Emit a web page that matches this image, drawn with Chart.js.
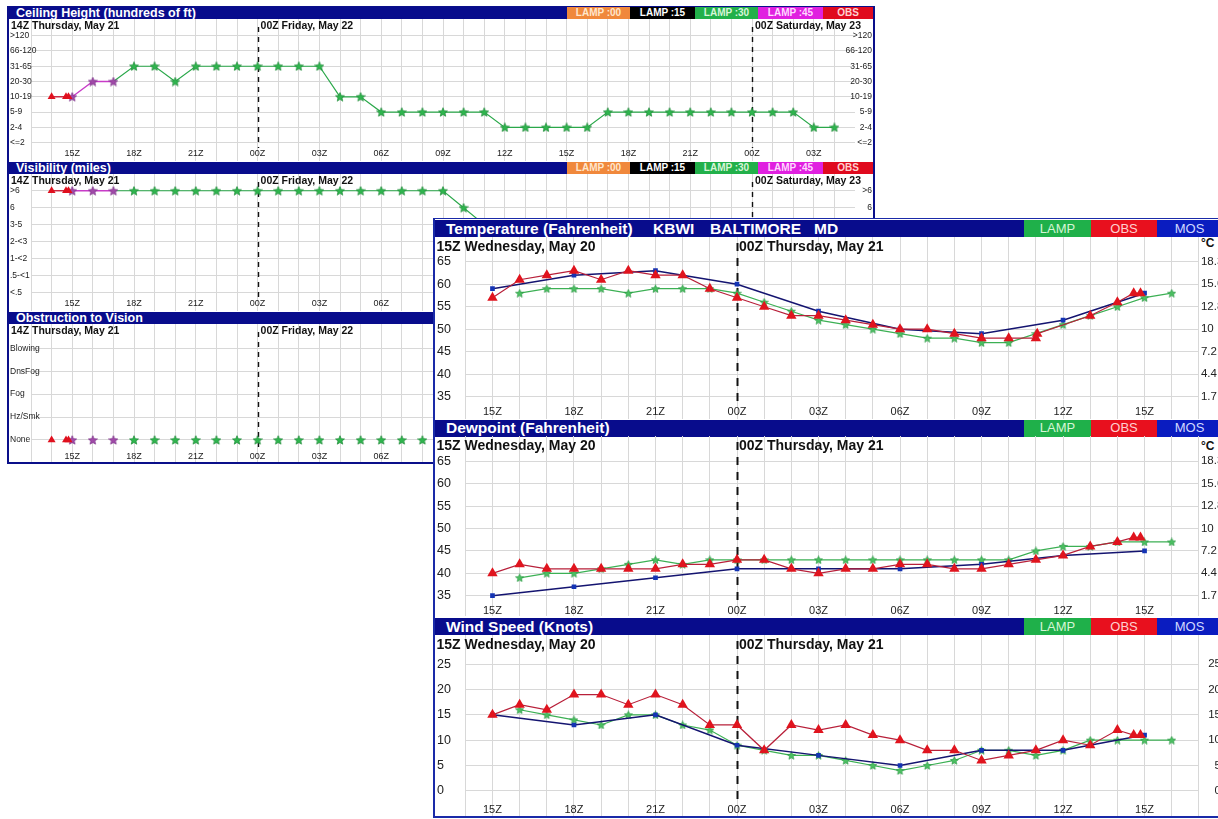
<!DOCTYPE html>
<html>
<head>
<meta charset="utf-8">
<title>KBWI LAMP guidance</title>
<script src="https://cdn.jsdelivr.net/npm/chart.js@4.4.1/dist/chart.umd.min.js"></script>
<style>
  html, body { margin: 0; padding: 0; background: #fff; width: 1218px; height: 819px; overflow: hidden;
    font-family: "Liberation Sans", Arial, sans-serif; }
  .layer { position: absolute; left: 0; top: 0; width: 1218px; height: 819px; }
  .frame { position: absolute; box-sizing: content-box; }
  .bar { position: absolute; background: #080c8c; color: #fff; white-space: nowrap; overflow: hidden; }
  .bar span { position: absolute; top: 0; white-space: nowrap; }
  .key { position: absolute; top: 0; height: 100%; text-align: center; }
  .unit { position: absolute; font-weight: bold; font-size: 12px; color: #111; line-height: 14px; }
</style>
</head>
<body>
<div id="back" class="layer">
  <div class="frame" style="left:7px;top:6px;width:864px;height:455px;border:2px solid #0a0f8a;border-top:1px solid #0a0f8a;background:#fff"></div>
</div>
<div id="front" class="layer">
  <div class="frame" style="left:433px;top:218px;width:900px;height:597px;background:#fff;border-left:2px solid #1a2aa8;border-bottom:2px solid #1a2aa8;border-top:1px solid #1a2aa8"></div>
  <div class="unit" style="left:1201px;top:236px">°C</div>
  <div class="unit" style="left:1201px;top:439px">°C</div>
</div>
<script>
// ===== LAMP run issued 14Z Thursday, May 21 (hours after 14Z) =====
const ceilCats = ['<=2', '2-4', '5-9', '10-19', '20-30', '31-65', '66-120', '>120'];
const visCats = ['<.5', '.5-<1', '1-<2', '2-<3', '3-5', '6', '>6'];
const obvCats = ['None', 'Hz/Smk', 'Fog', 'DnsFog', 'Blowing'];

const obsHoursBack = [0, 0.7, 0.82];
const lamp45Hours = [1, 2, 3];
const ceilLamp30Hours = [3, 4, 5, 6, 7, 8, 9, 10, 11, 12, 13, 14, 15, 16, 17, 18, 19, 20, 21, 22,
  23, 24, 25, 26, 27, 28, 29, 30, 31, 32, 33, 34, 35, 36, 37, 38];
const visLamp30Hours = [3, 4, 5, 6, 7, 8, 9, 10, 11, 12, 13, 14, 15, 16, 17, 18, 19, 20, 21];
const obvLamp30Hours = [4, 5, 6, 7, 8, 9, 10, 11, 12, 13, 14, 15, 16, 17, 18, 19];

const ceilObs = ['10-19', '10-19', '10-19'];
const ceilLamp45 = ['10-19', '20-30', '20-30'];
const ceilLamp30 = ['20-30', '31-65', '31-65', '20-30', '31-65', '31-65', '31-65', '31-65', '31-65',
  '31-65', '31-65', '10-19', '10-19', '5-9', '5-9', '5-9', '5-9', '5-9', '5-9', '2-4', '2-4', '2-4',
  '2-4', '2-4', '5-9', '5-9', '5-9', '5-9', '5-9', '5-9', '5-9', '5-9', '5-9', '5-9', '2-4', '2-4'];

const visObs = ['>6', '>6', '>6'];
const visLamp45 = ['>6', '>6', '>6'];
const visLamp30 = ['>6', '>6', '>6', '>6', '>6', '>6', '>6', '>6', '>6', '>6', '>6', '>6', '>6',
  '>6', '>6', '>6', '>6', '6', '3-5'];

const obvObs = ['None', 'None', 'None'];
const obvLamp45 = ['None', 'None', 'None'];
const obvLamp30 = ['None', 'None', 'None', 'None', 'None', 'None', 'None', 'None', 'None', 'None',
  'None', 'None', 'None', 'None', 'None', 'None'];

// ===== KBWI BALTIMORE MD, from 15Z Wednesday, May 20 (hours after 15Z) =====
const mosHours = [0, 3, 6, 9, 12, 15, 18, 21, 24];
const lampHours = [1, 2, 3, 4, 5, 6, 7, 8, 9, 10, 11, 12, 13, 14, 15, 16, 17, 18, 19, 20, 21, 22, 23, 24, 25];
const obsHoursTemp = [0, 1, 2, 3, 4, 5, 6, 7, 8, 9, 10, 11, 12, 13, 14, 15, 16, 17, 18, 19, 20, 20.05,
  22, 23, 23.6, 23.85];
const obsHours = [0, 1, 2, 3, 4, 5, 6, 7, 8, 9, 10, 11, 12, 13, 14, 15, 16, 17, 18, 19, 20, 21, 22, 23,
  23.6, 23.85];

const tempMos = [59, 62, 63, 60, 54, 50, 49, 52, 58];
const tempLamp = [58, 59, 59, 59, 58, 59, 59, 59, 58, 56, 54, 52, 51, 50, 49, 48, 48, 47, 47, 49, 51,
  53, 55, 57, 58];
const tempObs = [57, 61, 62, 63, 61, 63, 62, 62, 59, 57, 55, 53, 53, 52, 51, 50, 50, 49, 48, 48, 48,
  49, 53, 56, 58, 58];

const dewMos = [35, 37, 39, 41, 41, 41, 42, 44, 45];
const dewLamp = [39, 40, 40, 41, 42, 43, 42, 43, 43, 43, 43, 43, 43, 43, 43, 43, 43, 43, 43, 45, 46,
  46, 47, 47, 47];
const dewObs = [40, 42, 41, 41, 41, 41, 41, 42, 42, 43, 43, 41, 40, 41, 41, 42, 42, 41, 41, 42, 43,
  44, 46, 47, 48, 48];

const windMos = [15, 13, 15, 9, 7, 5, 8, 8, 11];
const windLamp = [16, 15, 14, 13, 15, 15, 13, 12, 9, 8, 7, 7, 6, 5, 4, 5, 6, 8, 8, 7, 8, 10, 10, 10, 10];
const windObs = [15, 17, 16, 19, 19, 17, 19, 17, 13, 13, 8, 13, 12, 13, 11, 10, 8, 8, 6, 7, 8, 10, 9,
  12, 11, 11];

// ----- helpers -----
const FONT = '"Liberation Sans", Arial, sans-serif';
const GRID = '#d8d8d8';
const range = (a, b, s = 1) => { const r = []; for (let v = a; v <= b + 1e-9; v += s) r.push(v); return r; };
const hz = n => String(n).padStart(2, '0') + 'Z';
const pts = (hours, vals, cats) => hours.map((h, i) => ({ x: h, y: cats ? cats.indexOf(vals[i]) : vals[i] }));

function starImg(size, fill, edge) {
  const c = document.createElement('canvas');
  c.width = c.height = size;
  const g = c.getContext('2d');
  const r = size / 2 - 0.3, ri = r * 0.45;
  g.beginPath();
  for (let i = 0; i < 10; i++) {
    const a = -Math.PI / 2 + i * Math.PI / 5, rr = i % 2 ? ri : r;
    g.lineTo(size / 2 + rr * Math.cos(a), size / 2 + 0.4 + rr * Math.sin(a));
  }
  g.closePath();
  g.fillStyle = fill; g.fill();
  g.strokeStyle = edge; g.lineWidth = 0.7; g.stroke();
  return c;
}
const starGreenBack = starImg(10, '#2fb54e', '#1d8a36');
const starPurple = starImg(10, '#a04aa8', '#7a2c86');
const starGreenFront = starImg(9, '#4cc062', '#2a9a44');

// dashed day-change lines, the run/day captions
const panelDeco = {
  id: 'panelDeco',
  beforeDatasetsDraw(chart, args, o) {
    const { ctx, chartArea: a, scales: { x } } = chart;
    ctx.save();
    ctx.strokeStyle = '#111';
    ctx.lineWidth = o.dashWidth;
    ctx.setLineDash(o.dash);
    for (const m of o.marks) {
      const px = Math.round(x.getPixelForValue(m.h)) + 0.5;
      ctx.beginPath();
      ctx.moveTo(px, a.top + o.lineTop);
      ctx.lineTo(px, a.bottom - o.lineBottom);
      ctx.stroke();
    }
    ctx.restore();
  },
  afterDatasetsDraw(chart, args, o) {
    const { ctx, chartArea: a, scales: { x } } = chart;
    ctx.save();
    ctx.font = 'bold ' + o.fontSize + 'px ' + FONT;
    ctx.fillStyle = '#111';
    ctx.textBaseline = 'middle';
    ctx.textAlign = 'left';
    ctx.fillText(o.start, o.startX, a.top + o.textY);
    for (const m of o.marks) ctx.fillText(m.label, x.getPixelForValue(m.h) + o.markGap, a.top + o.textY);
    ctx.restore();
  }
};

function buildPanel(layer, p) {
  const cv = document.createElement('canvas');
  cv.width = p.w; cv.height = p.h;
  cv.style.cssText = `position:absolute;left:${p.left}px;top:${p.top}px;width:${p.w}px;height:${p.h}px`;
  layer.appendChild(cv);
  const fixTicks = vals => ax => { ax.ticks = vals.map(v => ({ value: v })); };
  const sizeY = w => ax => { ax.width = w; ax.paddingTop = 0; ax.paddingBottom = 0; };
  const scales = {
    x: {
      type: 'linear', min: p.xMin, max: p.xMax,
      afterBuildTicks: fixTicks(p.xTicks),
      afterFit: ax => { ax.height = 0; ax.paddingLeft = 0; ax.paddingRight = 0; },
      grid: { color: GRID, lineWidth: 1, drawTicks: false },
      border: { display: false },
      // labels sit inside the plot, just above its lower edge
      ticks: { mirror: true, autoSkip: false, maxRotation: 0, minRotation: 0, padding: p.xPad, color: '#222',
        font: { family: FONT, size: p.xFont }, callback: p.xLabel }
    },
    y: {
      type: 'linear', position: 'left', min: p.yMin, max: p.yMax,
      afterBuildTicks: fixTicks(p.yTicks),
      afterFit: sizeY(p.yW),
      grid: { color: GRID, lineWidth: 1, drawTicks: false },
      border: { display: false },
      // left-aligned at the outer edge of the axis box
      ticks: { mirror: true, crossAlign: 'near', padding: -p.yW, color: '#222',
        font: { family: FONT, size: p.yFont }, callback: p.yLabel }
    }
  };
  let padR = p.padR;
  if (p.y2) {
    const edge = p.y2.align === 'edge';
    scales.y2 = {
      type: 'linear', position: 'right', min: p.yMin, max: p.yMax,
      afterBuildTicks: fixTicks(p.yTicks),
      afterFit: sizeY(p.y2W),
      grid: { display: false, drawTicks: false },
      border: { display: false },
      // 'edge': right-aligned at the outer edge; otherwise left-aligned next to the plot
      ticks: { mirror: edge, crossAlign: 'near', padding: edge ? p.y2W : p.y2.pad, color: '#222',
        font: { family: FONT, size: p.y2Font || p.yFont }, callback: p.y2.label }
    };
  } else {
    padR += p.y2W;
  }
  new Chart(cv, {
    type: 'line',
    data: { datasets: p.datasets },
    options: {
      responsive: false, animation: false, devicePixelRatio: 1,
      layout: { autoPadding: false, padding: { left: p.padL, right: padR, top: 0, bottom: 0 } },
      elements: { line: { tension: 0 } },
      plugins: { legend: { display: false }, tooltip: { enabled: false }, panelDeco: p.deco },
      scales
    },
    plugins: [panelDeco]
  });
}

function bar(layer, b) {
  const d = document.createElement('div');
  d.className = 'bar';
  d.style.cssText = `left:${b.x}px;top:${b.y}px;width:${b.w}px;height:${b.h}px;`;
  for (const t of b.titles) {
    const s = document.createElement('span');
    s.textContent = t.text;
    s.style.cssText = `left:${t.x - b.x}px;line-height:${b.h}px;font-size:${b.font}px;font-weight:bold;`;
    d.appendChild(s);
  }
  for (const k of b.keys) {
    const s = document.createElement('div');
    s.className = 'key';
    s.textContent = k.t;
    s.style.cssText += `left:${k.x0 - b.x}px;width:${k.x1 - k.x0}px;background:${k.bg};color:${k.fg};` +
      `line-height:${b.h}px;font-size:${b.keyFont}px;font-weight:${b.keyWeight};`;
    d.appendChild(s);
  }
  layer.appendChild(d);
}

// ----- older window: ceiling / visibility / obstruction -----
const back = document.getElementById('back');
const backKeys = [
  { t: 'LAMP :00', x0: 567, x1: 630, bg: '#f0883c', fg: '#ffe6cc' },
  { t: 'LAMP :15', x0: 630, x1: 695, bg: '#000000', fg: '#ffffff' },
  { t: 'LAMP :30', x0: 695, x1: 758, bg: '#22b04a', fg: '#d8f5d8' },
  { t: 'LAMP :45', x0: 758, x1: 823, bg: '#e020e0', fg: '#ffd8ff' },
  { t: 'OBS', x0: 823, x1: 873, bg: '#e00a1e', fg: '#ffd0d0' }
];
bar(back, { x: 9, y: 7, w: 864, h: 12, font: 12.5, keyFont: 10, keyWeight: 'bold',
  titles: [{ text: 'Ceiling Height (hundreds of ft)', x: 16 }], keys: backKeys });
bar(back, { x: 9, y: 162, w: 864, h: 12, font: 12.5, keyFont: 10, keyWeight: 'bold',
  titles: [{ text: 'Visibility (miles)', x: 16 }], keys: backKeys });
bar(back, { x: 9, y: 312, w: 864, h: 12, font: 12.5, keyFont: 10, keyWeight: 'bold',
  titles: [{ text: 'Obstruction to Vision', x: 16 }], keys: [] });

const backLabel = v => { const t = ((14 + v) % 24 + 24) % 24; return t % 3 === 0 ? hz(t) : ''; };
const backDeco = {
  start: '14Z Thursday, May 21', startX: 2, textY: 7, fontSize: 10.5, markGap: 3,
  marks: [{ h: 10, label: '00Z Friday, May 22' }, { h: 34, label: '00Z Saturday, May 23' }],
  lineTop: 8, lineBottom: 13, dash: [5, 5], dashWidth: 1.4
};
function backSets(cats, hoursA, obs, hoursB, l45, hoursC, l30, lines) {
  return [
    { data: pts(hoursA, obs, cats), showLine: lines, borderColor: '#c8102e', borderWidth: 1.3,
      pointStyle: 'triangle', pointRadius: 4.6, pointBackgroundColor: '#e0101e', pointBorderColor: '#e0101e',
      pointBorderWidth: 0 },
    { data: pts(hoursB, l45, cats), showLine: lines, borderColor: '#c83cc8', borderWidth: 1.3,
      pointStyle: starPurple, pointRadius: 5 },
    { data: pts(hoursC, l30, cats), showLine: lines, borderColor: '#2aa84a', borderWidth: 1.2,
      pointStyle: starGreenBack, pointRadius: ctx => (lines && ctx.dataIndex === 0 ? 0 : 5) }
  ];
}
const backBase = { left: 9, w: 863, padL: 1, yW: 21, padR: 0, y2W: 17,
  xMin: -1, xMax: 39, xTicks: range(-1, 38), xFont: 9, yFont: 8.5, xLabel: backLabel };

buildPanel(back, Object.assign({}, backBase, {
  top: 19, h: 142, yMin: -1.2, yMax: 8.09, yTicks: range(0, 7), xPad: 1.6,
  yLabel: v => ceilCats[v], y2: { align: 'edge', label: v => ceilCats[v] },
  deco: backDeco,
  datasets: backSets(ceilCats, obsHoursBack, ceilObs, lamp45Hours, ceilLamp45, ceilLamp30Hours, ceilLamp30, true)
}));
buildPanel(back, Object.assign({}, backBase, {
  top: 174, h: 137, yMin: -1.1, yMax: 6.99, yTicks: range(0, 6), xPad: 1.6,
  yLabel: v => visCats[v], y2: { align: 'edge', label: v => visCats[v] },
  deco: backDeco,
  datasets: backSets(visCats, obsHoursBack, visObs, lamp45Hours, visLamp45, visLamp30Hours, visLamp30, true)
}));
buildPanel(back, Object.assign({}, backBase, {
  top: 324, h: 138, yMin: -0.96, yMax: 5.06, yTicks: range(0, 4), xPad: -0.1,
  yLabel: v => obvCats[v], y2: null,
  deco: backDeco,
  datasets: backSets(obvCats, obsHoursBack, obvObs, lamp45Hours, obvLamp45, obvLamp30Hours, obvLamp30, false)
}));

// ----- front window: temperature / dewpoint / wind speed -----
const front = document.getElementById('front');
const frontKeys = [
  { t: 'LAMP', x0: 1024, x1: 1091, bg: '#1fb04a', fg: '#d5f5d5' },
  { t: 'OBS', x0: 1091, x1: 1157, bg: '#e8101e', fg: '#ffd0d0' },
  { t: 'MOS', x0: 1157, x1: 1222, bg: '#0a1cc0', fg: '#d0d8ff' }
];
bar(front, { x: 435, y: 220, w: 800, h: 17, font: 15.5, keyFont: 13, keyWeight: 'normal', keys: frontKeys,
  titles: [{ text: 'Temperature (Fahrenheit)', x: 446 }, { text: 'KBWI', x: 653 },
    { text: 'BALTIMORE', x: 710 }, { text: 'MD', x: 814 }] });
bar(front, { x: 435, y: 420, w: 800, h: 16.5, font: 15.5, keyFont: 13, keyWeight: 'normal', keys: frontKeys,
  titles: [{ text: 'Dewpoint (Fahrenheit)', x: 446 }] });
bar(front, { x: 435, y: 617.5, w: 800, h: 17.5, font: 15.5, keyFont: 13, keyWeight: 'normal', keys: frontKeys,
  titles: [{ text: 'Wind Speed (Knots)', x: 446 }] });

const frontLabel = v => { const t = (15 + v) % 24; return t % 3 === 0 ? hz(t) : ''; };
const toC = v => String(Math.round((v - 32) * 50 / 9) / 10);
const frontDeco = {
  start: '15Z Wednesday, May 20', startX: 1.5, textY: 10.5, fontSize: 14, markGap: 2,
  marks: [{ h: 9, label: '00Z Thursday, May 21' }],
  lineTop: 6, lineBottom: 11, dash: [8, 7], dashWidth: 2
};
function frontSets(obsH, obs, mos, lamp) {
  return [
    { data: pts(obsH, obs), borderColor: '#b8203a', borderWidth: 1.2, pointStyle: 'triangle',
      pointRadius: 6, pointBackgroundColor: '#e0141e', pointBorderColor: '#e0141e', pointBorderWidth: 0 },
    { data: pts(mosHours, mos), borderColor: '#141470', borderWidth: 1.5, pointStyle: 'rect',
      pointRadius: 3.3, pointBackgroundColor: '#1434b4', pointBorderColor: '#1434b4', pointBorderWidth: 0 },
    { data: pts(lampHours, lamp), borderColor: '#3cb054', borderWidth: 1.2, pointStyle: starGreenFront,
      pointRadius: 4.5 }
  ];
}
const frontBase = { left: 435, w: 800, padL: 2, yW: 28.3, padR: 0, y2W: 36.1,
  xMin: -1, xMax: 26, xTicks: range(-1, 26), xFont: 11, yFont: 12.5, y2Font: 11.5, xLabel: frontLabel,
  yLabel: v => String(v), deco: frontDeco };

buildPanel(front, Object.assign({}, frontBase, {
  top: 237, h: 182, yMin: 30.04, yMax: 70.49, yTicks: range(35, 65, 5), xPad: 0.7,
  y2: { align: 'near', pad: 2, label: toC },
  datasets: frontSets(obsHoursTemp, tempObs, tempMos, tempLamp)
}));
buildPanel(front, Object.assign({}, frontBase, {
  top: 436, h: 180, yMin: 30.47, yMax: 70.65, yTicks: range(35, 65, 5), xPad: -1.9,
  y2: { align: 'near', pad: 2, label: toC },
  datasets: frontSets(obsHours, dewObs, dewMos, dewLamp)
}));
buildPanel(front, Object.assign({}, frontBase, {
  top: 635, h: 181, yMin: -4.96, yMax: 30.75, yTicks: range(0, 25, 5), xPad: -0.6,
  padR: 14, y2W: 22.1,
  y2: { align: 'edge', label: v => String(v) },
  datasets: frontSets(obsHours, windObs, windMos, windLamp)
}));
</script>
</body>
</html>
